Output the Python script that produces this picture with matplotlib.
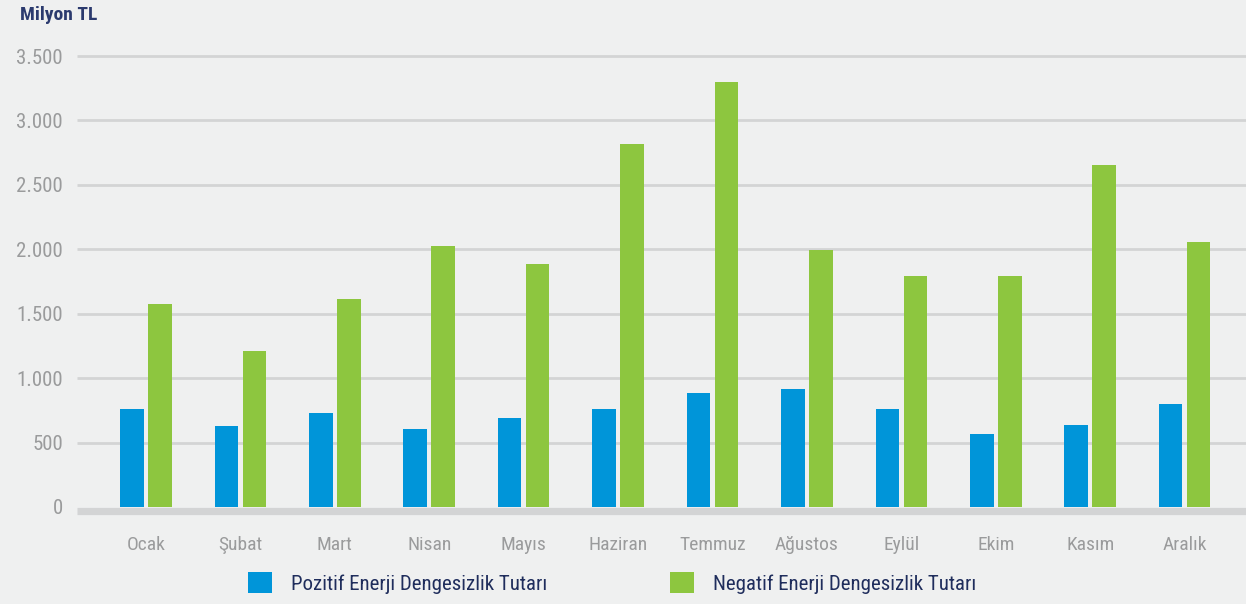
import numpy as np
import matplotlib
matplotlib.use('Agg')
import matplotlib.pyplot as plt
from matplotlib import font_manager


def pick_font(names):
    for name in names:
        try:
            font_manager.findfont(name, fallback_to_default=False)
            return name
        except Exception:
            continue
    return 'DejaVu Sans'


months = ['Ocak', 'Şubat', 'Mart', 'Nisan', 'Mayıs', 'Haziran',
          'Temmuz', 'Ağustos', 'Eylül', 'Ekim', 'Kasım', 'Aralık']
pozitif = [760, 628, 729, 605, 690, 760, 884, 915, 760, 566, 636, 798]
negatif = [1574, 1209, 1612, 2023, 1884, 2814, 3302, 1992, 1791, 1791, 2651, 2054]
yticks = [0, 500, 1000, 1500, 2000, 2500, 3000, 3500]
ytick_labels = ['0', '500', '1.000', '1.500', '2.000', '2.500', '3.000', '3.500']

font = pick_font(['Liberation Sans Narrow', 'Roboto Condensed', 'Roboto', 'Liberation Sans'])
plt.rcParams['font.family'] = [font, 'DejaVu Sans']

bg = '#eff0f0'
blue = '#0095d9'
green = '#8dc63f'
navy = '#1f2d5c'
gray_txt = '#9a9b9c'

fig = plt.figure(figsize=(12.46, 6.04), dpi=100, facecolor=bg)
ax = fig.add_axes([77 / 1246, 97 / 604, 1 - 77 / 1246, 451 / 604])
ax.set_facecolor(bg)

x = np.arange(len(months))
w = 0.25
ax.bar(x - 0.148, pozitif, w, color=blue, zorder=3, label='Pozitif Enerji Dengesizlik Tutarı')
ax.bar(x + 0.148, negatif, w, color=green, zorder=3, label='Negatif Enerji Dengesizlik Tutarı')

ax.set_xlim(-0.73, 11.65)
ax.set_ylim(0, 3500)
ax.set_yticks(yticks)
ax.set_yticklabels(ytick_labels)
for yv in yticks[1:]:
    ax.axhline(yv, color='#d3d4d5', lw=2, zorder=1, clip_on=False, solid_capstyle='butt')
# thick baseline band just below zero
ax.axhline(-28, color='#d3d4d5', lw=5.2, zorder=2, clip_on=False, solid_capstyle='butt')

ax.set_xticks(x)
ax.set_xticklabels(months)
ax.tick_params(axis='both', length=0, colors=gray_txt)
ax.tick_params(axis='x', pad=21, labelsize=14)
ax.tick_params(axis='y', pad=10, labelsize=15)
for s in ax.spines.values():
    s.set_visible(False)

fig.text(20 / 1246, 1 - 15 / 604, 'Milyon TL', color='#2b3a6e', fontsize=14,
         fontweight='bold', va='center', ha='left')

leg = fig.legend(loc='center left', bbox_to_anchor=(248 / 1246, 1 - 583 / 604), ncol=2,
                 frameon=False, fontsize=15, handlelength=1.15, handleheight=1.15,
                 handletextpad=0.9, columnspacing=5.9, borderpad=0, borderaxespad=0)
for t in leg.get_texts():
    t.set_color(navy)

fig.savefig('out.png', dpi=100, facecolor=bg)
